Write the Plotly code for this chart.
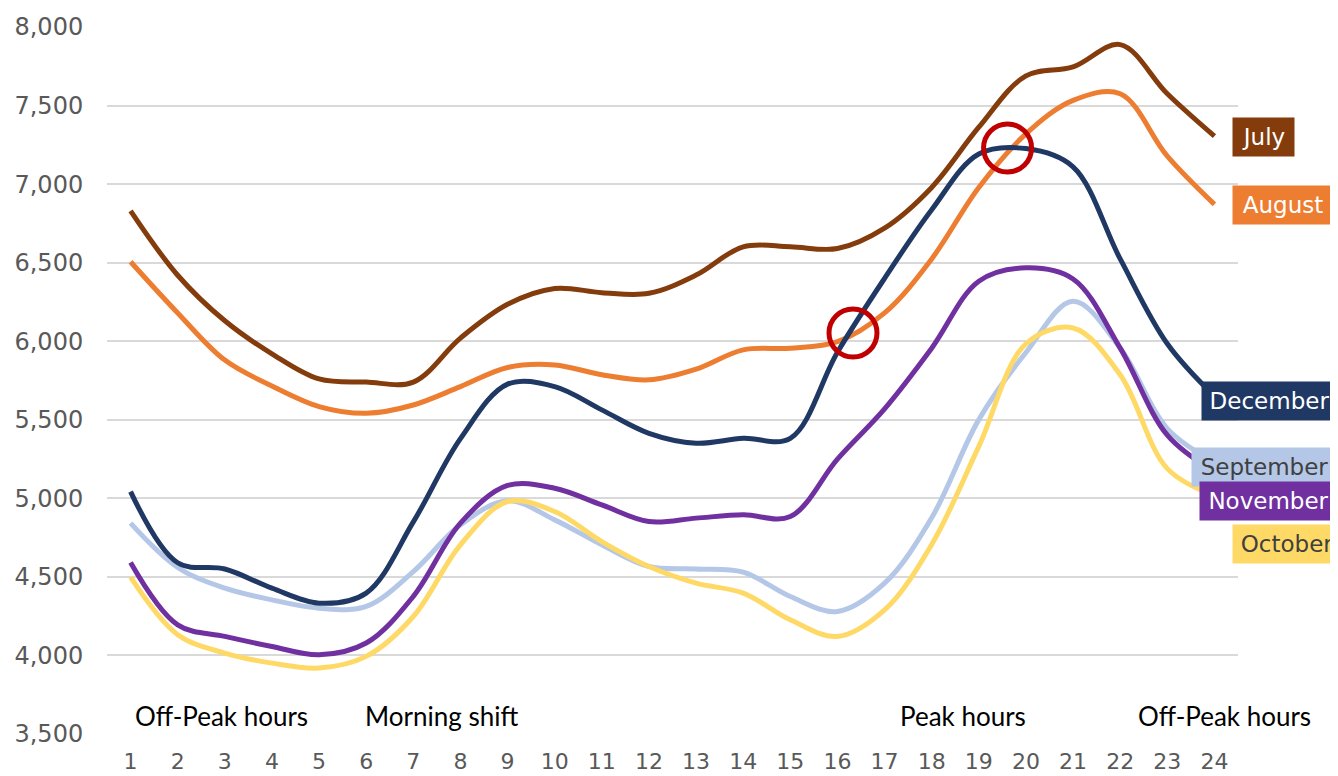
import plotly.graph_objects as go

hours = list(range(1, 25))
hour_labels = [str(h) for h in hours]

july = [6830, 6420, 6130, 5920, 5760, 5740, 5740, 6020, 6235, 6336, 6309, 6305,
        6421, 6601, 6601, 6590, 6720, 6979, 7362, 7689, 7746, 7888, 7575, 7305]
august = [6506, 6180, 5880, 5715, 5584, 5541, 5594, 5711, 5833, 5849, 5787, 5754,
          5822, 5945, 5955, 5997, 6180, 6524, 6979, 7320, 7533, 7575, 7178, 6871]
september = [4842, 4560, 4428, 4354, 4301, 4312, 4534, 4831, 4985, 4863, 4704, 4566,
             4550, 4530, 4375, 4280, 4460, 4876, 5501, 5928, 6255, 5956, 5444, 5231]
october = [4498, 4132, 4015, 3951, 3920, 3994, 4248, 4704, 4980, 4916, 4725, 4566,
           4460, 4397, 4227, 4121, 4290, 4706, 5331, 5984, 6084, 5786, 5189, 5018]
november = [4592, 4195, 4121, 4057, 4004, 4079, 4376, 4842, 5082, 5064, 4958, 4852,
            4874, 4895, 4884, 5250, 5570, 5956, 6382, 6467, 6396, 5956, 5402, 5170]
december = [5043, 4590, 4550, 4428, 4333, 4397, 4850, 5380, 5727, 5711, 5563, 5414,
            5351, 5382, 5382, 5930, 6400, 6837, 7192, 7226, 7110, 6524, 5984, 5650]

series_names = ["July", "August", "September", "October", "November", "December"]
series_values = [july, august, september, october, november, december]
series_colors = ["#843C0C", "#ED7D31", "#B4C7E7", "#FFD966", "#7030A0", "#203864"]
label_text_colors = ["white", "white", "#404040", "#404040", "white", "white"]
label_y = [7300, 6867, 5200, 4709, 4983, 5620]
label_align_right = [False, False, True, False, True, True]
label_box_width = [49, 88, 133, 96, 125, 123]

period_labels = ["Off-Peak hours", "Morning shift", "Peak hours", "Off-Peak hours"]
period_x = [2.93, 7.59, 18.66, 24.21]
period_y = 3615

highlight_x = [16.33, 19.61]
highlight_y = [6052, 7230]

y_ticks = [3500, 4000, 4500, 5000, 5500, 6000, 6500, 7000, 7500, 8000]

fig = go.Figure()
for name, vals, col in zip(series_names, series_values, series_colors):
    fig.add_trace(go.Scatter(
        x=hours, y=vals, name=name, mode="lines",
        line=dict(color=col, width=5, shape="spline", smoothing=1.0),
        showlegend=False,
    ))

annotations = []
for name, col, tc, ly, right, bw in zip(series_names, series_colors, label_text_colors,
                                        label_y, label_align_right, label_box_width):
    annotations.append(dict(
        x=1.0884 if right else 0.9947, xref="paper", y=ly, yref="y",
        xanchor="right" if right else "left", yanchor="middle",
        text=name, showarrow=False, bgcolor=col, borderpad=6, width=bw,
        font=dict(family="DejaVu Sans", size=23, color=tc),
    ))
for txt, px in zip(period_labels, period_x):
    annotations.append(dict(
        x=px, y=period_y, xref="x", yref="y", text=txt, showarrow=False,
        xanchor="center", yanchor="middle",
        font=dict(family="Lato", size=26, color="black"),
    ))

shapes = []
for hx, hy in zip(highlight_x, highlight_y):
    shapes.append(dict(
        type="circle", xref="x", yref="y", xsizemode="pixel", ysizemode="pixel",
        xanchor=hx, yanchor=hy, x0=-24, x1=24, y0=-24, y1=24,
        line=dict(color="#C00000", width=5), layer="above",
    ))

fig.update_layout(
    width=1330, height=768,
    margin=dict(l=99, r=100, t=19, b=42),
    paper_bgcolor="white", plot_bgcolor="white",
    annotations=annotations, shapes=shapes,
    xaxis=dict(range=[0.5, 24.5], tickvals=hours, ticktext=hour_labels,
               showgrid=False, zeroline=False, showline=False, automargin=False,
               ticks="outside", ticklen=8, tickcolor="rgba(0,0,0,0)",
               tickfont=dict(family="DejaVu Sans", size=22, color="#595959")),
    yaxis=dict(range=[3500, 8000], tickvals=y_ticks, tickformat=",d",
               showgrid=True, gridcolor="#D9D9D9", gridwidth=2,
               zeroline=False, showline=False, automargin=False,
               ticks="outside", ticklen=18, tickcolor="rgba(0,0,0,0)",
               tickfont=dict(family="DejaVu Sans", size=24, color="#595959")),
)

fig.write_html("out.html")
